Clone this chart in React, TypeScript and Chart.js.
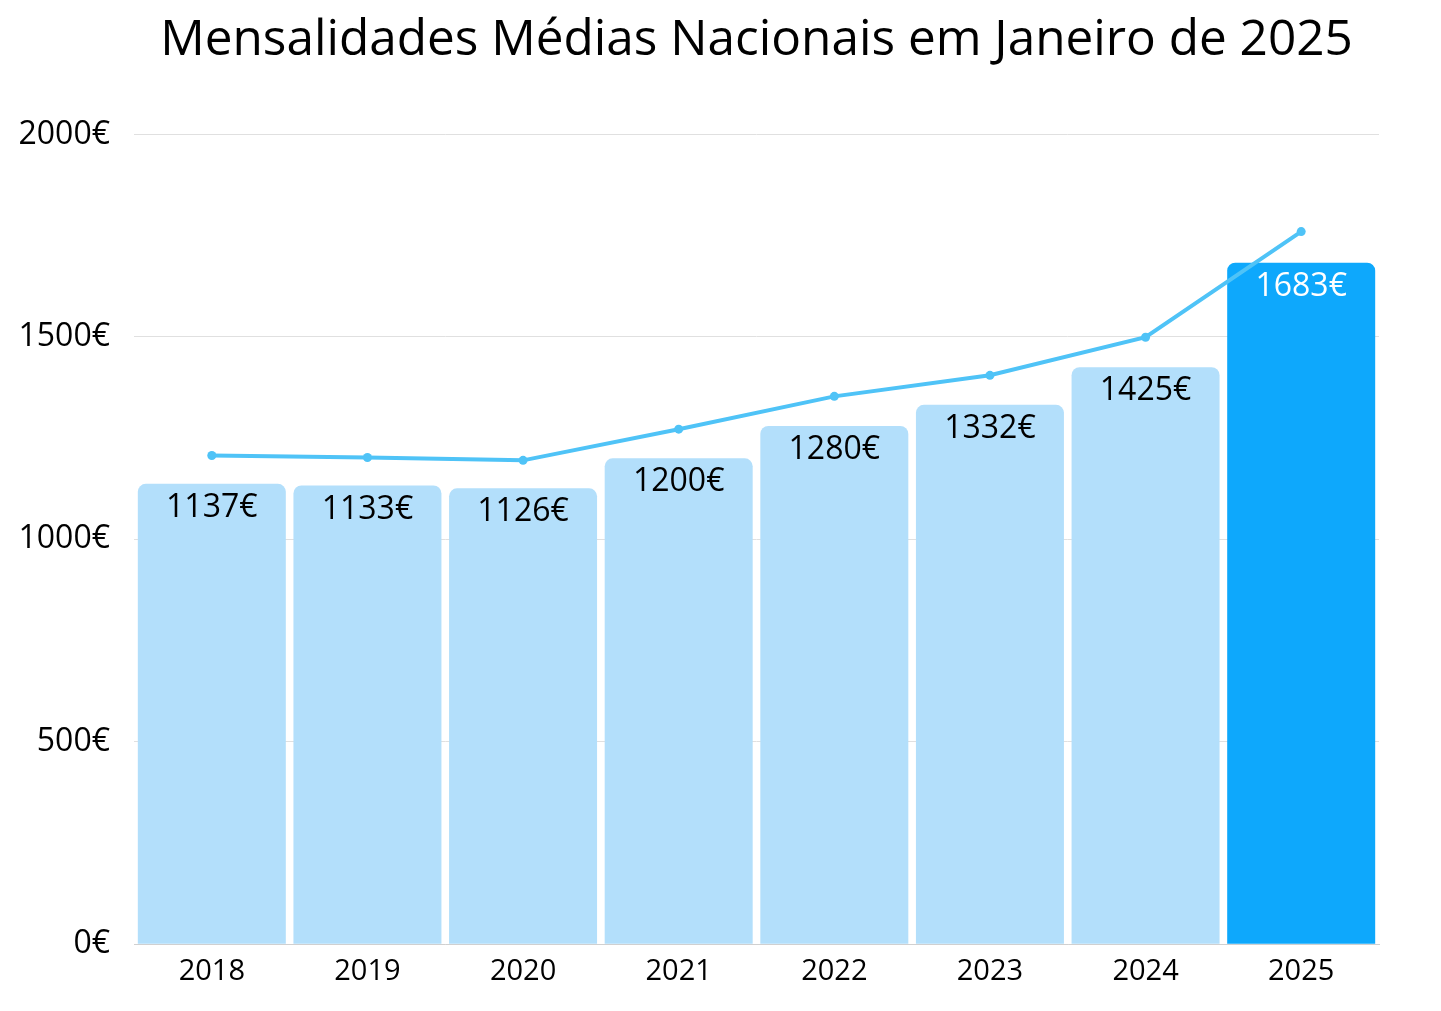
import React, { useEffect, useRef } from "react";
import { Chart, registerables } from "chart.js";

Chart.register(...registerables);

const categories = ["2018", "2019", "2020", "2021", "2022", "2023", "2024", "2025"];
const barValues = [1137, 1133, 1126, 1200, 1280, 1332, 1425, 1683];
const lineValues = [1207, 1202, 1195, 1272, 1353, 1405, 1499, 1760];
const barColors = ["#B3DFFB", "#B3DFFB", "#B3DFFB", "#B3DFFB", "#B3DFFB", "#B3DFFB", "#B3DFFB", "#0EA8FC"];
const labelColors = ["#000", "#000", "#000", "#000", "#000", "#000", "#000", "#fff"];
const titleText = "Mensalidades Médias Nacionais em Janeiro de 2025";

const FONT = "'Open Sans', 'Noto Sans', sans-serif";

const barLabelPlugin = {
  id: "barLabels",
  afterDatasetsDraw(chart: any) {
    const meta = chart.getDatasetMeta(1);
    const ctx = chart.ctx;
    ctx.save();
    ctx.font = `32px ${FONT}`;
    ctx.textAlign = "center";
    ctx.textBaseline = "middle";
    meta.data.forEach((el: any, i: number) => {
      ctx.fillStyle = labelColors[i];
      ctx.fillText(`${barValues[i]}€`, el.x, el.y + 24);
    });
    ctx.restore();
  },
};

export default function App() {
  const ref = useRef<HTMLCanvasElement | null>(null);
  useEffect(() => {
    if (!ref.current) return;
    const chart = new Chart(ref.current, {
      type: "bar",
      data: {
        labels: categories,
        datasets: [
          {
            type: "line",
            data: lineValues,
            borderColor: "#4FC3F7",
            backgroundColor: "#4FC3F7",
            borderWidth: 4,
            pointRadius: 4.5,
            pointBackgroundColor: "#4FC3F7",
            pointBorderWidth: 0,
            tension: 0,
            order: 0,
          } as any,
          {
            type: "bar",
            data: barValues,
            backgroundColor: barColors,
            borderRadius: { topLeft: 8, topRight: 8, bottomLeft: 0, bottomRight: 0 },
            borderSkipped: false,
            barPercentage: 0.951,
            categoryPercentage: 1,
            order: 1,
          } as any,
        ],
      },
      options: {
        responsive: true,
        maintainAspectRatio: false,
        animation: false,
        layout: { padding: { left: 20, right: 62, top: 8, bottom: 12 } },
        plugins: {
          legend: { display: false },
          tooltip: { enabled: false },
          title: {
            display: true,
            text: titleText,
            fullSize: false,
            color: "#000",
            font: { family: FONT, size: 49.5, weight: "normal" },
            padding: { top: 3, bottom: 64 },
          },
        },
        scales: {
          x: {
            offset: true,
            grid: { display: false, drawTicks: false },
            border: { display: true, color: "#d0d0d0", width: 1 },
            ticks: { color: "#000", padding: 10, font: { family: FONT, size: 29 } },
          },
          y: {
            min: 0,
            max: 2000,
            afterFit: (scale: any) => {
              scale.width = 114;
            },
            ticks: {
              stepSize: 500,
              color: "#000",
              padding: 24,
              font: { family: FONT, size: 32 },
              callback: (v: any) => `${v}€`,
            },
            grid: { color: "#e0e0e0", drawTicks: false },
            border: { display: false },
          },
        },
      },
      plugins: [barLabelPlugin],
    });
    return () => chart.destroy();
  }, []);
  return (
    <div style={{ position: "absolute", left: 0, top: 0, width: 1441, height: 1011, background: "#fff" }}>
      <canvas ref={ref} />
    </div>
  );
}
